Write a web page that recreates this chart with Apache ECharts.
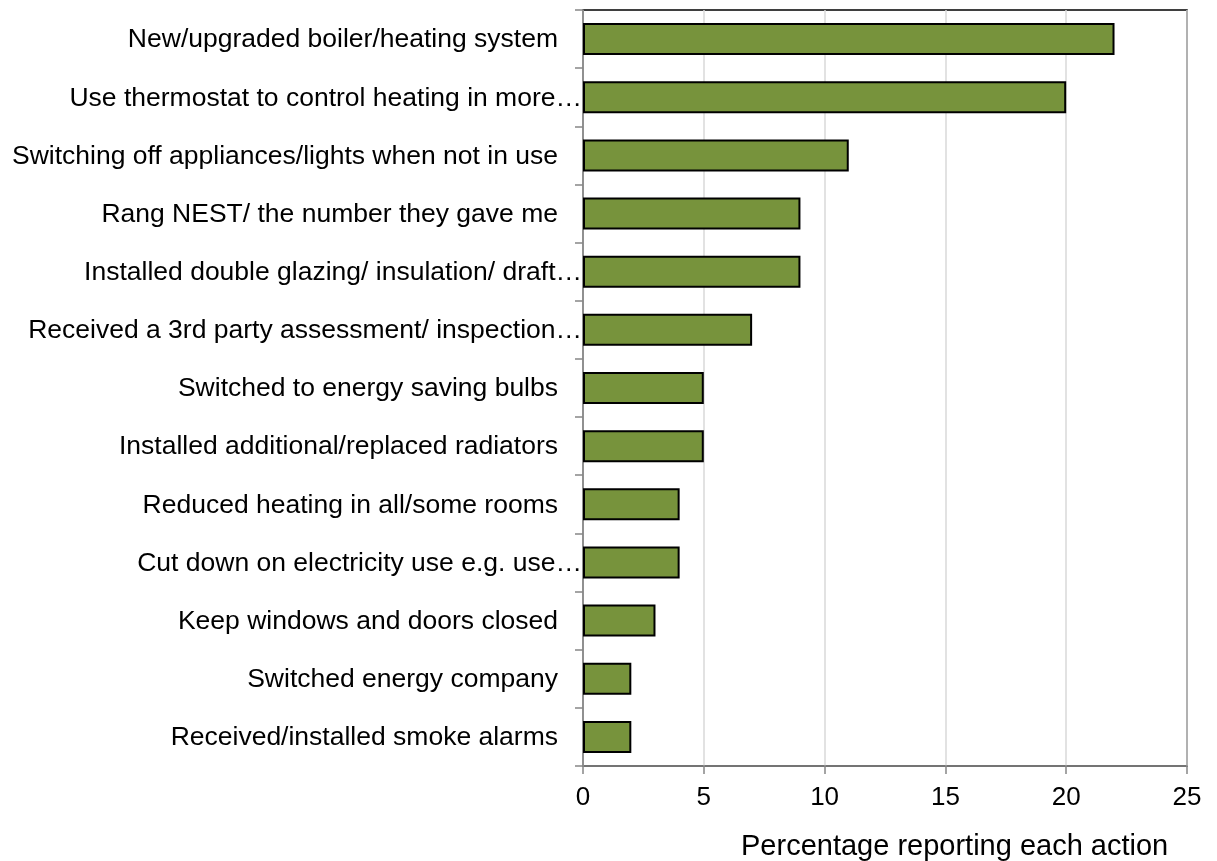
<!DOCTYPE html>
<html>
<head>
<meta charset="utf-8">
<script src="https://cdn.jsdelivr.net/npm/echarts@6/dist/echarts.min.js"></script>
<style>html,body{margin:0;padding:0;background:#fff;}#c{width:1217px;height:861px;}</style>
</head>
<body>
<div id="c"></div>
<script>
const categories = [
  "New/upgraded boiler/heating system",
  "Use thermostat to control heating in more\u2026",
  "Switching off appliances/lights when not in use",
  "Rang NEST/ the number they gave me",
  "Installed double glazing/ insulation/ draft\u2026",
  "Received a 3rd party assessment/ inspection\u2026",
  "Switched to energy saving bulbs",
  "Installed additional/replaced radiators",
  "Reduced heating in all/some rooms",
  "Cut down on electricity use e.g. use\u2026",
  "Keep windows and doors closed",
  "Switched energy company",
  "Received/installed smoke alarms"
];
const values = [22, 20, 11, 9, 9, 7, 5, 5, 4, 4, 3, 2, 2];
const xTicks = [0, 5, 10, 15, 20, 25];
const axisTitle = "Percentage reporting each action";

const font = "Liberation Sans, Arial, sans-serif";
const chart = echarts.init(document.getElementById('c'), null, {renderer: 'canvas'});
chart.setOption({
  animation: false,
  backgroundColor: '#fff',
  textStyle: {fontFamily: font},
  grid: {left: 583, right: 30, top: 10, bottom: 95, show: true, borderColor: '#000', borderWidth: 1.5, containLabel: false},
  xAxis: {
    type: 'value', min: xTicks[0], max: xTicks[xTicks.length - 1], interval: 5,
    axisLine: {show: true, lineStyle: {color: '#868686', width: 1.5}},
    axisTick: {show: true, length: 8, lineStyle: {color: '#868686', width: 1.5}},
    splitLine: {show: true, lineStyle: {color: '#d9d9d9', width: 1.5}},
    axisLabel: {color: '#000', fontSize: 26, margin: 19, fontFamily: font}
  },
  yAxis: {
    type: 'category', data: categories, inverse: true,
    axisLine: {show: true, lineStyle: {color: '#868686', width: 1.5}},
    axisTick: {show: true, length: 8, alignWithLabel: false, lineStyle: {color: '#868686', width: 1.5}},
    axisLabel: {
      color: '#000', fontSize: 26.5, margin: 1, fontFamily: font, interval: 0,
      formatter: function (v) {
        return v.endsWith('\u2026') ? '{t|' + v + '}' : '{n|' + v + '}';
      },
      rich: {
        n: {fontSize: 26.5, fontFamily: font, color: '#000', padding: [2, 24, 0, 0]},
        t: {fontSize: 26.5, fontFamily: font, color: '#000', padding: [2, 0, 0, 0]}
      }
    }
  },
  series: [{
    type: 'bar', data: values, barWidth: '55%',
    itemStyle: {color: '#77933C', borderColor: '#000', borderWidth: 2}
  }],
  graphic: [{
    type: 'text', left: 741, top: 832,
    style: {text: axisTitle, fontSize: 29, fontFamily: font, fill: '#000'}
  }]
});
</script>
</body>
</html>
